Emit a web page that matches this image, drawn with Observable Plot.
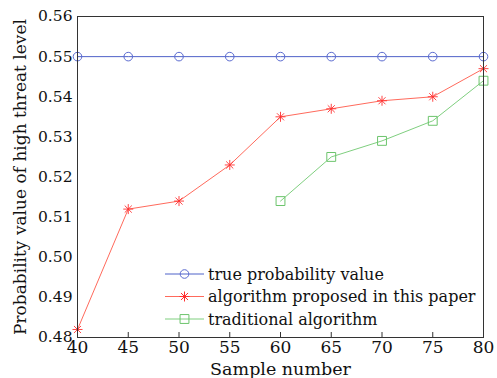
<!DOCTYPE html>
<html>
<head>
<meta charset="utf-8">
<script src="https://cdn.jsdelivr.net/npm/d3@7"></script>
<script src="https://cdn.jsdelivr.net/npm/@observablehq/plot@0.6"></script>
<style>
  html, body { margin: 0; padding: 0; background: #fff; }
  #chart { width: 497px; height: 378px; }
  svg { font-family: "DejaVu Serif", serif; }
</style>
</head>
<body>
<div id="chart"></div>
<script>
// ---- data ----
const sampleTrue = [40, 45, 50, 55, 60, 65, 70, 75, 80];
const valueTrue = [0.55, 0.55, 0.55, 0.55, 0.55, 0.55, 0.55, 0.55, 0.55];
const sampleProposed = [40, 45, 50, 55, 60, 65, 70, 75, 80];
const valueProposed = [0.482, 0.512, 0.514, 0.523, 0.535, 0.537, 0.539, 0.540, 0.547];
const sampleTraditional = [60, 65, 70, 75, 80];
const valueTraditional = [0.514, 0.525, 0.529, 0.534, 0.544];
const xTicks = [40, 45, 50, 55, 60, 65, 70, 75, 80];
const yTicks = [0.48, 0.49, 0.50, 0.51, 0.52, 0.53, 0.54, 0.55, 0.56];
const seriesNames = ["true probability value", "algorithm proposed in this paper", "traditional algorithm"];

const blue = "#4f62c9", blueMark = "#5b6bd0";
const red = "#ff6a5c", redMark = "#ff3030";
const green = "#7fcf7f", greenMark = "#6cc46c";

const toRows = (xs, ys) => xs.map((x, i) => ({x, y: ys[i]}));
const trueRows = toRows(sampleTrue, valueTrue);
const propRows = toRows(sampleProposed, valueProposed);
const tradRows = toRows(sampleTraditional, valueTraditional);

// 8-arm asterisk like MATLAB '*'
const star8 = {
  draw(ctx, size) {
    const r = Math.sqrt(size / Math.PI);
    const d = r * Math.SQRT1_2;
    ctx.moveTo(-r, 0); ctx.lineTo(r, 0);
    ctx.moveTo(0, -r); ctx.lineTo(0, r);
    ctx.moveTo(-d, -d); ctx.lineTo(d, d);
    ctx.moveTo(-d, d); ctx.lineTo(d, -d);
  }
};

const chart = Plot.plot({
  width: 497,
  height: 378,
  marginLeft: 77,
  marginRight: 14,
  marginTop: 16,
  marginBottom: 41,
  style: {fontFamily: "DejaVu Serif, serif", fontSize: "15px", color: "#111", background: "#fff"},
  x: {domain: [40, 80]},
  y: {domain: [0.48, 0.56]},
  marks: [
    Plot.axisX(xTicks, {tickSize: -5, tickPadding: 8, fontSize: 17, stroke: "#333", label: null}),
    Plot.axisX([], {tickSize: 0, fontSize: 17.5, label: "Sample number", labelAnchor: "center", labelArrow: "none", labelOffset: 37}),
    Plot.axisY(yTicks, {tickSize: 0, tickPadding: 5, fontSize: 15.5, tickFormat: d3.format(".2f"), label: null}),
    Plot.axisY([], {tickSize: 0, fontSize: 17, label: "Probability value of high threat level", labelAnchor: "center", labelArrow: "none", labelOffset: 64}),
    Plot.lineY(trueRows, {x: "x", y: "y", stroke: blue, strokeWidth: 1}),
    Plot.dot(trueRows, {x: "x", y: "y", symbol: "circle", r: 4.3, stroke: blueMark, fill: "none", strokeWidth: 1}),
    Plot.lineY(propRows, {x: "x", y: "y", stroke: red, strokeWidth: 1}),
    Plot.dot(propRows, {x: "x", y: "y", symbol: star8, r: 5, stroke: redMark, fill: "none", strokeWidth: 0.9}),
    Plot.lineY(tradRows, {x: "x", y: "y", stroke: green, strokeWidth: 1}),
    Plot.dot(tradRows, {x: "x", y: "y", symbol: "square", r: 5, stroke: greenMark, fill: "none", strokeWidth: 1}),
    Plot.frame({stroke: "#333", strokeWidth: 1})
  ]
});
document.getElementById("chart").appendChild(chart);

// legend inside plot area
const svg = d3.select(chart);
const legendColors = [[blue, blueMark, "circle"], [red, redMark, "star"], [green, greenMark, "square"]];
const lg = svg.append("g").attr("class", "legend").attr("text-anchor", "start");
seriesNames.forEach((name, i) => {
  const y = 274 + i * 22.5;
  const [lc, mc, sym] = legendColors[i];
  lg.append("line").attr("x1", 165).attr("x2", 204).attr("y1", y).attr("y2", y).attr("stroke", lc).attr("stroke-width", 1);
  let path;
  if (sym === "circle") path = d3.symbol(d3.symbolCircle, Math.PI * 4.3 * 4.3)();
  else if (sym === "square") path = d3.symbol(d3.symbolSquare, Math.PI * 25)();
  else path = d3.symbol(star8, Math.PI * 25)();
  lg.append("path").attr("d", path).attr("transform", `translate(184.5,${y})`).attr("fill", "none").attr("stroke", mc).attr("stroke-width", 1);
  lg.append("text").attr("x", 208).attr("y", y).attr("dy", "0.35em").attr("text-anchor", "start").attr("font-size", 16).attr("fill", "#111").text(name);
});
</script>
</body>
</html>
